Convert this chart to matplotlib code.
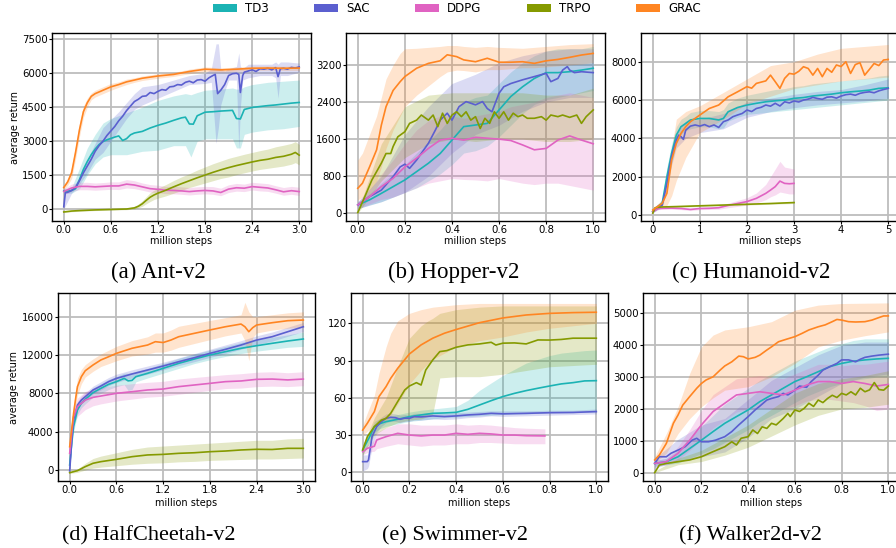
import matplotlib
matplotlib.use("Agg")
import matplotlib.pyplot as plt
from matplotlib.patches import Patch

# ---------------- colours / names ----------------
ALGOS = ["TD3", "SAC", "DDPG", "TRPO", "GRAC"]
COLORS = {"TD3": "#1bb3b4", "SAC": "#5b5fcf", "DDPG": "#e063c2",
          "TRPO": "#859a00", "GRAC": "#ff8522"}

# ================= (a) Ant-v2 =================
ANT_TD3_X = [0, 0.05, 0.1, 0.15, 0.2, 0.25, 0.3, 0.35, 0.4, 0.45, 0.5, 0.55, 0.6, 0.65, 0.7, 0.75, 0.8, 0.85, 0.9, 1.0, 1.1, 1.2, 1.3, 1.4, 1.5, 1.55, 1.6, 1.65, 1.7, 1.8, 1.9, 2.0, 2.1, 2.15, 2.2, 2.25, 2.3, 2.4, 2.5, 2.6, 2.7, 2.8, 2.9, 3.0]
ANT_TD3_Y = [800, 790, 820, 900, 1300, 1750, 2100, 2400, 2650, 2850, 2980, 3060, 3120, 3180, 3230, 3030, 3110, 3280, 3360, 3430, 3580, 3700, 3800, 3920, 4030, 4060, 3760, 3750, 4120, 4280, 4300, 4330, 4350, 4360, 4000, 3980, 4400, 4490, 4530, 4570, 4600, 4640, 4680, 4710]
ANT_TD3_BX = [0, 0.1, 0.2, 0.3, 0.4, 0.5, 0.6, 0.8, 1.0, 1.2, 1.4, 1.55, 1.62, 1.7, 1.8, 2.0, 2.15, 2.2, 2.25, 2.3, 2.4, 2.6, 2.8, 3.0]
ANT_TD3_LO = [700, 700, 900, 1500, 2000, 2300, 2400, 2400, 2550, 2600, 2800, 2800, 2300, 3000, 3100, 3100, 3100, 2700, 2700, 3300, 3400, 3500, 3550, 3650]
ANT_TD3_HI = [900, 950, 1800, 2700, 3300, 3800, 4000, 4250, 4500, 4800, 5000, 5100, 5050, 5150, 5250, 5300, 5350, 5300, 5300, 5400, 5500, 5600, 5650, 5700]

ANT_SAC_X = [0, 0.02, 0.05, 0.1, 0.15, 0.2, 0.25, 0.3, 0.35, 0.4, 0.45, 0.5, 0.55, 0.6, 0.65, 0.7, 0.75, 0.8, 0.85, 0.9, 0.95, 1.0, 1.05, 1.1, 1.15, 1.2, 1.25, 1.3, 1.35, 1.4, 1.45, 1.5, 1.55, 1.6, 1.65, 1.7, 1.75, 1.8, 1.85, 1.9, 1.93, 1.96, 2.0, 2.05, 2.1, 2.15, 2.2, 2.23, 2.25, 2.28, 2.3, 2.35, 2.4, 2.45, 2.5, 2.55, 2.6, 2.65, 2.7, 2.73, 2.76, 2.8, 2.85, 2.9, 2.95, 3.0]
ANT_SAC_Y = [100, 720, 740, 820, 950, 1250, 1600, 1900, 2200, 2550, 2800, 3000, 3250, 3450, 3650, 3900, 4100, 4350, 4550, 4750, 4850, 4980, 5000, 5150, 5100, 5200, 5280, 5250, 5400, 5420, 5500, 5480, 5600, 5650, 5580, 5700, 5720, 5650, 5800, 5900, 5950, 5100, 5250, 5500, 5900, 5980, 6000, 5950, 5150, 5900, 6050, 6100, 6150, 6080, 6200, 6180, 6220, 6150, 6250, 5850, 6200, 6220, 6180, 6260, 6230, 6280]
ANT_SAC_BX = [0, 0.1, 0.2, 0.3, 0.4, 0.5, 0.6, 0.7, 0.8, 0.9, 1.0, 1.2, 1.4, 1.6, 1.8, 1.88, 1.94, 1.97, 2.0, 2.05, 2.1, 2.2, 2.23, 2.25, 2.28, 2.35, 2.5, 2.65, 2.7, 2.73, 2.76, 2.85, 3.0]
ANT_SAC_LO = [0, 700, 1100, 1600, 2200, 2500, 3000, 3500, 4000, 4400, 4600, 4900, 5200, 5500, 5550, 5600, 2900, 3600, 4600, 5200, 5700, 5700, 2600, 4500, 5700, 5800, 5900, 5900, 5800, 4900, 5900, 5900, 6050]
ANT_SAC_HI = [800, 900, 1400, 2200, 2900, 3600, 3950, 4300, 4700, 5100, 5400, 5500, 5700, 5900, 6000, 6200, 7300, 7300, 6200, 6100, 6200, 6300, 6900, 6300, 6200, 6400, 6400, 6400, 6500, 6400, 6500, 6500, 6450]

ANT_DDPG_X = [0, 0.05, 0.1, 0.2, 0.3, 0.4, 0.5, 0.6, 0.7, 0.8, 0.9, 1.0, 1.1, 1.2, 1.3, 1.4, 1.5, 1.6, 1.7, 1.8, 1.9, 2.0, 2.1, 2.2, 2.3, 2.4, 2.5, 2.6, 2.7, 2.8, 2.9, 3.0]
ANT_DDPG_Y = [780, 850, 930, 1000, 1000, 980, 1000, 1020, 1020, 1100, 1060, 980, 900, 870, 830, 820, 800, 770, 800, 820, 800, 730, 880, 940, 920, 990, 960, 930, 850, 760, 810, 770]
ANT_DDPG_LO = [650, 700, 780, 850, 850, 830, 850, 870, 860, 930, 900, 830, 750, 720, 680, 670, 650, 620, 650, 670, 650, 590, 730, 790, 770, 840, 800, 780, 700, 610, 650, 600]
ANT_DDPG_HI = [900, 1000, 1100, 1180, 1180, 1150, 1170, 1200, 1200, 1300, 1250, 1150, 1080, 1050, 1000, 1000, 980, 950, 980, 1000, 990, 920, 1070, 1130, 1100, 1180, 1150, 1120, 1030, 950, 1000, 960]

ANT_TRPO_X = [0, 0.1, 0.2, 0.4, 0.6, 0.8, 0.9, 0.95, 1.0, 1.05, 1.1, 1.15, 1.2, 1.3, 1.4, 1.5, 1.6, 1.7, 1.8, 1.9, 2.0, 2.1, 2.2, 2.3, 2.4, 2.5, 2.6, 2.7, 2.8, 2.9, 2.95, 3.0]
ANT_TRPO_Y = [-130, -90, -70, -40, -20, 0, 50, 120, 230, 380, 520, 620, 700, 830, 980, 1120, 1250, 1380, 1500, 1620, 1730, 1830, 1920, 2000, 2080, 2150, 2200, 2280, 2330, 2420, 2500, 2380]
ANT_TRPO_LO = [-160, -120, -100, -70, -50, -30, 0, 50, 120, 230, 330, 420, 480, 580, 700, 820, 950, 1050, 1150, 1250, 1350, 1420, 1520, 1600, 1680, 1750, 1800, 1850, 1900, 1980, 2050, 1950]
ANT_TRPO_HI = [-100, -60, -40, -10, 10, 40, 120, 220, 360, 540, 720, 830, 920, 1080, 1260, 1420, 1560, 1720, 1860, 2000, 2120, 2240, 2330, 2420, 2500, 2580, 2650, 2750, 2820, 2900, 2980, 2850]

ANT_GRAC_X = [0, 0.05, 0.1, 0.15, 0.2, 0.25, 0.3, 0.35, 0.4, 0.5, 0.6, 0.7, 0.8, 0.9, 1.0, 1.2, 1.4, 1.6, 1.8, 2.0, 2.2, 2.4, 2.6, 2.8, 3.0]
ANT_GRAC_Y = [950, 1200, 1600, 2500, 3500, 4300, 4700, 4980, 5100, 5250, 5400, 5500, 5620, 5700, 5780, 5880, 5950, 6080, 6180, 6150, 6180, 6220, 6230, 6220, 6230]
ANT_GRAC_LO = [850, 1050, 1350, 2200, 3200, 4050, 4500, 4830, 4950, 5100, 5250, 5380, 5500, 5600, 5680, 5780, 5860, 5980, 6080, 6060, 6090, 6130, 6140, 6130, 6130]
ANT_GRAC_HI = [1050, 1350, 1850, 2800, 3800, 4550, 4900, 5130, 5250, 5400, 5550, 5620, 5740, 5800, 5880, 5980, 6040, 6180, 6280, 6240, 6270, 6310, 6320, 6310, 6330]

# ================= (b) Hopper-v2 =================
HOP_GRAC_X = [0, 0.02, 0.05, 0.08, 0.1, 0.12, 0.15, 0.18, 0.2, 0.25, 0.3, 0.35, 0.38, 0.42, 0.45, 0.5, 0.55, 0.6, 0.65, 0.7, 0.75, 0.8, 0.85, 0.9, 0.95, 1.0]
HOP_GRAC_Y = [540, 650, 1000, 1370, 1900, 2300, 2650, 2840, 2950, 3130, 3235, 3290, 3420, 3380, 3310, 3270, 3345, 3260, 3260, 3270, 3235, 3290, 3320, 3365, 3415, 3450]
HOP_GRAC_LO = [290, 350, 500, 700, 1000, 1400, 1800, 2100, 2300, 2550, 2750, 2950, 3050, 3090, 3080, 3050, 3100, 3100, 3120, 3140, 3140, 3160, 3180, 3200, 3220, 3250]
HOP_GRAC_HI = [1150, 1300, 1700, 2100, 2500, 2900, 3200, 3450, 3550, 3560, 3580, 3600, 3620, 3620, 3600, 3580, 3600, 3580, 3570, 3560, 3580, 3600, 3620, 3640, 3650, 3660]

HOP_SAC_X = [0, 0.05, 0.1, 0.15, 0.18, 0.2, 0.22, 0.25, 0.3, 0.33, 0.35, 0.38, 0.4, 0.43, 0.46, 0.5, 0.53, 0.55, 0.57, 0.6, 0.62, 0.65, 0.7, 0.75, 0.8, 0.82, 0.85, 0.87, 0.89, 0.9, 0.92, 0.95, 1.0]
HOP_SAC_Y = [180, 360, 500, 790, 1000, 1060, 970, 1150, 1510, 1800, 2010, 2160, 2010, 2300, 2410, 2340, 2410, 2260, 2190, 2590, 2730, 2800, 2880, 2950, 3020, 2840, 2910, 3090, 3165, 3090, 3035, 3055, 3035]
HOP_SAC_BX = [0, 0.1, 0.2, 0.3, 0.4, 0.5, 0.6, 0.7, 0.8, 0.9, 1.0]
HOP_SAC_LO = [100, 250, 450, 800, 1300, 1700, 1900, 2200, 2400, 2500, 2500]
HOP_SAC_HI = [250, 800, 1700, 2300, 2800, 3000, 3250, 3400, 3500, 3550, 3550]

HOP_TD3_X = [0, 0.05, 0.1, 0.15, 0.2, 0.25, 0.3, 0.35, 0.4, 0.45, 0.5, 0.55, 0.6, 0.65, 0.7, 0.75, 0.8, 0.85, 0.9, 0.95, 1.0]
HOP_TD3_Y = [180, 290, 430, 575, 720, 900, 1080, 1290, 1580, 1870, 1905, 1940, 2230, 2520, 2730, 2910, 3035, 3035, 3055, 3090, 3130]
HOP_TD3_LO = [100, 180, 250, 350, 450, 550, 700, 850, 1050, 1300, 1350, 1450, 1650, 1900, 2150, 2350, 2450, 2500, 2550, 2600, 2650]
HOP_TD3_HI = [250, 420, 650, 850, 1050, 1300, 1550, 1800, 2100, 2400, 2500, 2550, 2800, 3050, 3250, 3400, 3500, 3550, 3550, 3550, 3600]

HOP_TRPO_X = [0, 0.03, 0.06, 0.1, 0.12, 0.14, 0.15, 0.17, 0.2, 0.22, 0.25, 0.27, 0.3, 0.32, 0.34, 0.36, 0.38, 0.4, 0.42, 0.44, 0.46, 0.48, 0.5, 0.52, 0.54, 0.56, 0.58, 0.6, 0.62, 0.64, 0.66, 0.68, 0.7, 0.72, 0.75, 0.78, 0.8, 0.82, 0.85, 0.87, 0.9, 0.93, 0.95, 0.97, 1.0]
HOP_TRPO_Y = [15, 360, 720, 1080, 1290, 1290, 1440, 1650, 1760, 1940, 2010, 2120, 2010, 2120, 1870, 2160, 1940, 2120, 2190, 2085, 2190, 2010, 2085, 1830, 2050, 1940, 2190, 2050, 2190, 2010, 2160, 2085, 2120, 2050, 2050, 2085, 2010, 2120, 2085, 2120, 2070, 2120, 1940, 2085, 2230]
HOP_TRPO_BX = [0, 0.1, 0.2, 0.3, 0.4, 0.5, 0.6, 0.7, 0.8, 0.9, 1.0]
HOP_TRPO_LO = [0, 700, 1200, 1500, 1600, 1550, 1600, 1600, 1550, 1550, 1600]
HOP_TRPO_HI = [50, 1500, 2300, 2550, 2600, 2600, 2600, 2600, 2550, 2550, 2700]

HOP_DDPG_X = [0, 0.05, 0.1, 0.15, 0.2, 0.25, 0.3, 0.35, 0.4, 0.45, 0.5, 0.55, 0.6, 0.65, 0.7, 0.75, 0.8, 0.85, 0.9, 0.95, 1.0]
HOP_DDPG_Y = [180, 360, 575, 755, 1000, 1190, 1400, 1580, 1620, 1580, 1640, 1620, 1600, 1570, 1475, 1370, 1400, 1580, 1670, 1580, 1500]
HOP_DDPG_LO = [100, 200, 300, 350, 450, 550, 650, 700, 750, 730, 720, 700, 750, 700, 650, 620, 650, 650, 600, 550, 500]
HOP_DDPG_HI = [250, 500, 850, 1150, 1500, 1800, 2000, 2100, 2100, 2050, 2100, 2150, 2200, 2300, 2350, 2400, 2500, 2550, 2600, 2550, 2500]

# ================= (c) Humanoid-v2 =================
HUM_GRAC_X = [0, 0.1, 0.2, 0.3, 0.35, 0.4, 0.5, 0.6, 0.7, 0.8, 1.0, 1.2, 1.4, 1.6, 1.8, 2.0, 2.1, 2.2, 2.4, 2.5, 2.6, 2.7, 2.8, 2.9, 3.0, 3.1, 3.2, 3.3, 3.4, 3.5, 3.6, 3.7, 3.8, 3.9, 4.0, 4.1, 4.2, 4.3, 4.4, 4.5, 4.6, 4.7, 4.8, 4.9, 5.0]
HUM_GRAC_Y = [260, 435, 610, 1130, 2000, 2870, 3740, 4260, 4610, 4870, 5220, 5560, 5740, 6170, 6430, 6700, 6620, 6870, 7000, 7300, 6960, 6610, 7130, 7390, 7350, 7500, 7740, 7650, 7300, 7650, 7220, 7650, 7450, 7830, 7750, 8000, 7390, 7850, 7950, 7300, 7600, 7910, 7800, 8090, 8120]
HUM_GRAC_BX = [0, 0.2, 0.3, 0.4, 0.5, 0.7, 1.0, 1.5, 2.0, 2.5, 3.0, 3.5, 4.0, 4.5, 5.0]
HUM_GRAC_LO = [200, 400, 500, 1000, 1800, 3000, 4300, 5000, 5800, 6200, 6600, 6800, 7000, 7100, 7200]
HUM_GRAC_HI = [350, 800, 2000, 3500, 5000, 5400, 5700, 6400, 7100, 7800, 8000, 8400, 8700, 8800, 8900]

HUM_TD3_X = [0, 0.1, 0.2, 0.3, 0.4, 0.5, 0.6, 0.7, 0.8, 1.0, 1.2, 1.4, 1.5, 1.6, 1.8, 2.0, 2.2, 2.4, 2.6, 2.8, 3.0, 3.2, 3.4, 3.6, 3.8, 4.0, 4.2, 4.4, 4.6, 4.8, 5.0]
HUM_TD3_Y = [170, 435, 610, 2000, 3220, 4170, 4610, 4780, 4960, 5040, 5040, 4960, 5040, 5390, 5610, 5740, 5830, 5910, 5960, 6000, 6090, 6130, 6210, 6260, 6310, 6380, 6430, 6470, 6520, 6610, 6640]
HUM_TD3_LO = [120, 300, 450, 1500, 2700, 3700, 4200, 4400, 4500, 4600, 4600, 4500, 4550, 4900, 5100, 5250, 5300, 5350, 5400, 5450, 5500, 5550, 5600, 5650, 5700, 5750, 5800, 5850, 5900, 5950, 6000]
HUM_TD3_HI = [220, 550, 800, 2500, 3700, 4600, 5000, 5150, 5350, 5450, 5450, 5400, 5500, 5850, 6100, 6250, 6350, 6450, 6550, 6600, 6700, 6750, 6850, 6900, 6950, 7000, 7050, 7100, 7150, 7250, 7300]

HUM_SAC_X = [0, 0.1, 0.2, 0.3, 0.4, 0.5, 0.55, 0.6, 0.65, 0.7, 0.8, 0.9, 1.0, 1.1, 1.2, 1.3, 1.4, 1.5, 1.6, 1.7, 1.8, 1.9, 2.0, 2.1, 2.2, 2.3, 2.4, 2.5, 2.6, 2.7, 2.8, 2.9, 3.0, 3.1, 3.2, 3.3, 3.4, 3.5, 3.6, 3.7, 3.8, 3.9, 4.0, 4.1, 4.2, 4.3, 4.4, 4.5, 4.6, 4.7, 4.8, 4.9, 5.0]
HUM_SAC_Y = [170, 350, 520, 1650, 3040, 3910, 4170, 4090, 3950, 4430, 4640, 4700, 4640, 4720, 4610, 4700, 4570, 4870, 4960, 5130, 5220, 5300, 5480, 5400, 5560, 5620, 5740, 5680, 5830, 5690, 5910, 5850, 5950, 5900, 6000, 6050, 6140, 6080, 6040, 6150, 6170, 6100, 6210, 6280, 6310, 6250, 6350, 6400, 6430, 6380, 6480, 6550, 6610]
HUM_SAC_BX = [0, 0.2, 0.3, 0.4, 0.5, 0.7, 1.0, 1.5, 2.0, 2.5, 3.0, 3.5, 4.0, 4.5, 5.0]
HUM_SAC_LO = [120, 400, 1300, 2600, 3500, 4000, 4300, 4500, 5100, 5400, 5600, 5750, 5850, 5950, 6100]
HUM_SAC_HI = [220, 650, 2000, 3500, 4300, 4900, 5000, 5300, 5900, 6100, 6300, 6450, 6550, 6800, 7100]

HUM_DDPG_X = [0, 0.1, 0.2, 0.4, 0.6, 0.8, 1.0, 1.2, 1.4, 1.6, 1.8, 2.0, 2.2, 2.4, 2.5, 2.6, 2.7, 2.8, 2.9, 3.0]
HUM_DDPG_Y = [170, 330, 350, 360, 340, 290, 340, 350, 380, 500, 600, 700, 870, 1130, 1300, 1480, 1770, 1650, 1630, 1650]
HUM_DDPG_LO = [120, 280, 290, 300, 280, 230, 280, 290, 300, 380, 450, 520, 620, 800, 950, 1050, 1200, 1150, 1100, 1100]
HUM_DDPG_HI = [220, 380, 410, 420, 400, 350, 400, 420, 460, 620, 760, 900, 1150, 1600, 2000, 2400, 2800, 2500, 2450, 2400]

HUM_TRPO_X = [0, 0.05, 0.2, 0.5, 1.0, 1.5, 2.0, 2.5, 3.0]
HUM_TRPO_Y = [100, 380, 420, 440, 480, 520, 560, 600, 650]
HUM_TRPO_LO = [60, 340, 380, 400, 440, 480, 520, 560, 600]
HUM_TRPO_HI = [140, 420, 460, 480, 520, 560, 600, 640, 700]

# ================= (d) HalfCheetah-v2 =================
HC_GRAC_X = [0, 0.03, 0.05, 0.08, 0.1, 0.15, 0.2, 0.3, 0.4, 0.5, 0.6, 0.8, 0.9, 1.0, 1.1, 1.2, 1.3, 1.4, 1.6, 1.8, 2.0, 2.2, 2.25, 2.3, 2.35, 2.4, 2.6, 2.8, 3.0]
HC_GRAC_Y = [2430, 4520, 5900, 7650, 8700, 9740, 10360, 10960, 11480, 11820, 12170, 12700, 12870, 13040, 13390, 13300, 13560, 13910, 14260, 14610, 14950, 15230, 14950, 14430, 14850, 15130, 15370, 15580, 15650]
HC_GRAC_LO = [2000, 3800, 5000, 6800, 7800, 9000, 9700, 10300, 10800, 11100, 11400, 11900, 12000, 12100, 12300, 12300, 12500, 12800, 13200, 13600, 14000, 14300, 13500, 11400, 13800, 14300, 14600, 14800, 14900]
HC_GRAC_HI = [2900, 5300, 6800, 8500, 9600, 10500, 11000, 11600, 12100, 12500, 12900, 13500, 13700, 13900, 14300, 14300, 14600, 15000, 15300, 15600, 15900, 16200, 17500, 16500, 16000, 16000, 16200, 16400, 16500]

HC_SAC_X = [0, 0.03, 0.05, 0.1, 0.15, 0.2, 0.3, 0.4, 0.5, 0.6, 0.8, 1.0, 1.2, 1.4, 1.6, 1.8, 2.0, 2.2, 2.4, 2.6, 2.8, 3.0]
HC_SAC_Y = [-100, 3480, 5220, 6780, 7300, 7650, 8350, 8760, 9220, 9560, 10020, 10430, 10850, 11300, 11720, 12170, 12590, 13040, 13560, 13910, 14430, 14950]
HC_SAC_LO = [-300, 3100, 4800, 6400, 6900, 7250, 7950, 8350, 8800, 9150, 9600, 10000, 10450, 10900, 11300, 11750, 12150, 12600, 13100, 13450, 13950, 14450]
HC_SAC_HI = [100, 3900, 5600, 7150, 7700, 8050, 8750, 9200, 9650, 10000, 10450, 10850, 11250, 11700, 12150, 12600, 13050, 13500, 14000, 14400, 14900, 15400]

HC_TD3_X = [0, 0.03, 0.05, 0.1, 0.15, 0.2, 0.3, 0.4, 0.5, 0.6, 0.7, 0.75, 0.8, 0.85, 1.0, 1.2, 1.4, 1.6, 1.8, 2.0, 2.2, 2.4, 2.6, 2.8, 3.0]
HC_TD3_Y = [520, 3130, 4520, 6260, 6960, 7370, 8070, 8520, 8940, 9220, 9560, 9300, 9350, 9740, 10090, 10610, 11130, 11580, 12000, 12350, 12700, 12970, 13220, 13460, 13670]
HC_TD3_LO = [300, 2700, 4000, 5800, 6500, 6900, 7600, 8000, 8400, 8700, 8900, 8300, 8400, 9200, 9600, 10100, 10600, 11100, 11500, 11850, 12150, 12400, 12600, 12800, 12900]
HC_TD3_HI = [800, 3600, 5000, 6700, 7400, 7800, 8550, 9000, 9450, 9750, 10100, 10100, 10150, 10300, 10600, 11100, 11650, 12100, 12500, 12900, 13300, 13600, 13850, 14100, 14400]

HC_DDPG_X = [0, 0.03, 0.05, 0.1, 0.2, 0.3, 0.4, 0.6, 0.8, 1.0, 1.2, 1.4, 1.6, 1.8, 2.0, 2.2, 2.4, 2.6, 2.8, 3.0]
HC_DDPG_Y = [1740, 4170, 5560, 6610, 7300, 7580, 7720, 8000, 8170, 8350, 8450, 8700, 8870, 9040, 9220, 9290, 9460, 9490, 9400, 9490]
HC_DDPG_LO = [1300, 3500, 4700, 5600, 6300, 6700, 6900, 7200, 7400, 7600, 7700, 7900, 8100, 8300, 8500, 8550, 8700, 8750, 8700, 8800]
HC_DDPG_HI = [2200, 4800, 6300, 7500, 8200, 8450, 8600, 8850, 9000, 9150, 9250, 9500, 9650, 9800, 9950, 10050, 10200, 10250, 10150, 10250]

HC_TRPO_X = [0, 0.1, 0.2, 0.3, 0.4, 0.6, 0.8, 1.0, 1.2, 1.4, 1.6, 1.8, 2.0, 2.2, 2.4, 2.6, 2.8, 3.0]
HC_TRPO_Y = [-280, -70, 350, 700, 870, 1110, 1390, 1570, 1630, 1740, 1800, 1910, 1980, 2090, 2160, 2140, 2260, 2260]
HC_TRPO_LO = [-350, -250, 0, 200, 300, 450, 600, 700, 750, 850, 900, 1000, 1050, 1100, 1150, 1150, 1200, 1250]
HC_TRPO_HI = [-200, 100, 700, 1200, 1450, 1800, 2150, 2400, 2500, 2600, 2700, 2800, 2900, 3000, 3100, 3100, 3250, 3300]

# ================= (e) Swimmer-v2 =================
SW_GRAC_X = [0, 0.02, 0.05, 0.07, 0.1, 0.12, 0.15, 0.2, 0.25, 0.3, 0.35, 0.4, 0.5, 0.6, 0.7, 0.8, 0.9, 1.0]
SW_GRAC_Y = [34, 39.5, 48.9, 61, 69, 75.7, 83.8, 95.3, 102.6, 108, 112, 115, 120.5, 124.3, 126.7, 128, 128.6, 128.9]
SW_GRAC_LO = [30, 33, 38, 41, 42, 46, 55, 71, 82, 91, 96, 101, 106, 109, 113, 116, 118, 120]
SW_GRAC_HI = [38, 48, 62, 80, 101, 112, 122, 128, 131, 133, 134, 135, 136, 136, 136, 136, 136, 136]

SW_TRPO_X = [0, 0.02, 0.05, 0.08, 0.1, 0.12, 0.15, 0.18, 0.2, 0.23, 0.25, 0.27, 0.3, 0.33, 0.36, 0.4, 0.45, 0.5, 0.55, 0.57, 0.6, 0.65, 0.7, 0.75, 0.8, 0.85, 0.9, 1.0]
SW_TRPO_Y = [18, 28.7, 36.8, 42, 43.5, 47.5, 57, 66.3, 69.5, 72.2, 70.3, 82.4, 90.5, 97.2, 98, 100.7, 102.6, 103.4, 104.7, 102.5, 104, 104.2, 103.4, 106.6, 106.5, 107, 108, 108]
SW_TRPO_BX = [0, 0.05, 0.1, 0.15, 0.2, 0.25, 0.28, 0.3, 0.33, 0.4, 0.5, 0.6, 0.7, 0.8, 0.9, 1.0]
SW_TRPO_LO = [14, 30, 36, 40, 42, 43, 45, 47, 76, 77, 77, 79, 82, 85, 86, 87]
SW_TRPO_HI = [22, 44, 60, 85, 108, 118, 122, 124, 128, 131, 133, 134, 134, 134, 134, 134]

SW_TD3_X = [0, 0.03, 0.05, 0.07, 0.1, 0.15, 0.2, 0.25, 0.3, 0.35, 0.4, 0.45, 0.5, 0.55, 0.6, 0.65, 0.7, 0.75, 0.8, 0.85, 0.9, 0.95, 1.0]
SW_TD3_Y = [18, 28.7, 36.8, 39, 40.8, 42.7, 44.8, 46.2, 47.5, 47.8, 48.3, 50.7, 54.2, 57.7, 61, 63.6, 65.8, 67.7, 69.5, 71.2, 72.2, 73.6, 73.8]
SW_TD3_LO = [14, 24, 32, 35, 37, 39, 41, 42, 43, 44, 44.5, 45, 45.5, 46, 46.5, 47, 47, 47.5, 48, 48, 48, 48.5, 48.5]
SW_TD3_HI = [22, 33, 41, 43, 44.5, 46.5, 48.5, 50, 51, 52, 53, 58, 66, 72, 78, 83, 88, 91, 94, 96, 97, 98, 98.5]

SW_SAC_X = [0, 0.02, 0.025, 0.04, 0.06, 0.08, 0.1, 0.12, 0.14, 0.16, 0.18, 0.2, 0.22, 0.25, 0.3, 0.35, 0.4, 0.45, 0.5, 0.55, 0.6, 0.7, 0.8, 0.9, 1.0]
SW_SAC_Y = [8.6, 8.6, 10, 28.7, 36.8, 40.8, 43.5, 44.3, 44, 42.7, 43.6, 43.5, 44.8, 44.6, 45.4, 44.9, 45.4, 46.2, 46.7, 47.5, 47.1, 47.5, 48, 48.2, 48.9]
SW_SAC_LO = [1, 3, 5, 20, 32, 37, 40, 41, 41, 40, 41, 41, 42, 42, 43, 42.5, 43, 44, 44.5, 45.5, 45, 45.5, 46, 46.5, 47]
SW_SAC_HI = [14, 14, 16, 36, 41, 44.5, 47, 47.5, 47, 46, 46.5, 46, 47.5, 47.5, 48, 47.5, 48, 48.5, 49, 49.5, 49.5, 49.5, 50, 50, 51]

SW_DDPG_X = [0, 0.02, 0.05, 0.06, 0.08, 0.1, 0.15, 0.2, 0.25, 0.3, 0.35, 0.4, 0.45, 0.5, 0.55, 0.6, 0.65, 0.7, 0.78]
SW_DDPG_Y = [16.6, 19.3, 21, 26, 27.4, 28.7, 31.4, 30, 29.3, 30, 30, 31.4, 30.6, 31.4, 30.9, 30, 30, 29.5, 29.3]
SW_DDPG_LO = [14, 16, 17, 19, 20, 21, 23, 22, 21, 22, 22, 23, 23, 24, 24, 23.5, 23, 23, 23]
SW_DDPG_HI = [19, 22, 26, 32, 34, 36, 39, 39, 38, 38, 38, 39, 38, 38.5, 38, 37, 36, 35.5, 35]

# ================= (f) Walker2d-v2 =================
WK_GRAC_X = [0, 0.02, 0.05, 0.08, 0.1, 0.12, 0.15, 0.18, 0.2, 0.22, 0.25, 0.28, 0.3, 0.33, 0.36, 0.38, 0.4, 0.43, 0.45, 0.48, 0.5, 0.53, 0.56, 0.6, 0.63, 0.66, 0.7, 0.73, 0.76, 0.78, 0.8, 0.83, 0.86, 0.9, 0.93, 0.96, 0.98, 1.0]
WK_GRAC_Y = [400, 555, 920, 1550, 1810, 2120, 2390, 2650, 2800, 2910, 3010, 3220, 3350, 3480, 3660, 3640, 3570, 3620, 3690, 3850, 3950, 4110, 4180, 4270, 4370, 4480, 4580, 4640, 4740, 4810, 4790, 4740, 4730, 4740, 4790, 4870, 4920, 4920]
WK_GRAC_BX = [0, 0.05, 0.1, 0.15, 0.2, 0.25, 0.3, 0.4, 0.5, 0.6, 0.7, 0.8, 0.9, 1.0]
WK_GRAC_LO = [300, 610, 1230, 1700, 2070, 2350, 2590, 2700, 3010, 3430, 3950, 4160, 4300, 4420]
WK_GRAC_HI = [500, 1230, 2070, 3120, 3950, 4320, 4480, 4580, 4740, 5100, 5260, 5310, 5320, 5330]

WK_TD3_X = [0, 0.05, 0.1, 0.15, 0.2, 0.25, 0.3, 0.35, 0.4, 0.45, 0.5, 0.55, 0.6, 0.65, 0.7, 0.75, 0.8, 0.85, 0.9, 0.95, 1.0]
WK_TD3_Y = [290, 345, 500, 760, 1020, 1290, 1550, 1760, 1970, 2230, 2440, 2650, 2860, 3010, 3170, 3330, 3430, 3500, 3540, 3570, 3590]
WK_TD3_LO = [200, 250, 300, 450, 600, 750, 950, 1150, 1350, 1600, 1800, 2000, 2200, 2400, 2550, 2700, 2800, 2900, 2950, 3000, 3000]
WK_TD3_HI = [380, 450, 700, 1100, 1450, 1800, 2150, 2400, 2650, 2900, 3100, 3300, 3500, 3650, 3800, 3950, 4050, 4150, 4200, 4200, 4200]

WK_SAC_X = [0, 0.02, 0.05, 0.07, 0.1, 0.13, 0.16, 0.18, 0.2, 0.23, 0.26, 0.3, 0.33, 0.36, 0.4, 0.43, 0.45, 0.48, 0.5, 0.53, 0.55, 0.57, 0.6, 0.62, 0.65, 0.67, 0.7, 0.72, 0.75, 0.78, 0.8, 0.83, 0.86, 0.88, 0.9, 0.93, 0.96, 1.0]
WK_SAC_Y = [290, 500, 500, 610, 710, 815, 1020, 1080, 970, 970, 1020, 1130, 1290, 1500, 1760, 1970, 2090, 2280, 2330, 2390, 2490, 2440, 2590, 2720, 2680, 2860, 3060, 3220, 3330, 3430, 3540, 3540, 3480, 3560, 3620, 3660, 3690, 3720]
WK_SAC_BX = [0, 0.1, 0.2, 0.3, 0.4, 0.5, 0.6, 0.7, 0.8, 0.9, 1.0]
WK_SAC_LO = [150, 350, 500, 650, 1100, 1700, 2000, 2400, 2800, 3000, 3100]
WK_SAC_HI = [450, 1050, 1500, 1700, 2300, 2900, 3300, 3700, 4000, 4100, 4100]

WK_DDPG_X = [0, 0.05, 0.1, 0.15, 0.2, 0.25, 0.3, 0.35, 0.4, 0.45, 0.5, 0.55, 0.6, 0.65, 0.7, 0.75, 0.8, 0.85, 0.9, 0.95, 1.0]
WK_DDPG_Y = [290, 345, 610, 1020, 1500, 1920, 2180, 2440, 2490, 2540, 2490, 2440, 2590, 2750, 2860, 2860, 2800, 2860, 2800, 2720, 2770]
WK_DDPG_LO = [200, 250, 400, 700, 1050, 1400, 1650, 1900, 2000, 2050, 2000, 2000, 2100, 2250, 2300, 2300, 2250, 2200, 2100, 1950, 2000]
WK_DDPG_HI = [380, 450, 820, 1350, 1950, 2450, 2700, 2950, 3000, 3050, 3000, 2950, 3100, 3250, 3400, 3400, 3350, 3400, 3400, 3450, 3500]

WK_TRPO_X = [0, 0.02, 0.05, 0.1, 0.15, 0.2, 0.25, 0.3, 0.33, 0.35, 0.37, 0.4, 0.42, 0.44, 0.46, 0.48, 0.5, 0.52, 0.55, 0.57, 0.58, 0.6, 0.62, 0.64, 0.66, 0.68, 0.7, 0.72, 0.74, 0.76, 0.78, 0.8, 0.82, 0.84, 0.86, 0.88, 0.9, 0.92, 0.94, 0.96, 0.98, 1.0]
WK_TRPO_Y = [0, 240, 290, 345, 400, 500, 660, 815, 970, 870, 1080, 1130, 1340, 1230, 1440, 1390, 1550, 1500, 1700, 1860, 1760, 1970, 1920, 2020, 2180, 2080, 2280, 2200, 2330, 2430, 2360, 2490, 2440, 2540, 2440, 2650, 2540, 2600, 2830, 2610, 2590, 2720]
WK_TRPO_BX = [0, 0.1, 0.2, 0.3, 0.4, 0.5, 0.6, 0.7, 0.8, 0.9, 1.0]
WK_TRPO_LO = [0, 250, 350, 550, 800, 1150, 1500, 1800, 2000, 2050, 2150]
WK_TRPO_HI = [50, 450, 700, 1100, 1500, 2000, 2500, 2800, 2950, 3050, 3200]

# ---------------- panel specs ----------------
PANELS = [
    dict(cap="(a) Ant-v2",
         series={"TD3": (ANT_TD3_X, ANT_TD3_Y, ANT_TD3_BX, ANT_TD3_LO, ANT_TD3_HI),
                 "SAC": (ANT_SAC_X, ANT_SAC_Y, ANT_SAC_BX, ANT_SAC_LO, ANT_SAC_HI),
                 "DDPG": (ANT_DDPG_X, ANT_DDPG_Y, ANT_DDPG_X, ANT_DDPG_LO, ANT_DDPG_HI),
                 "TRPO": (ANT_TRPO_X, ANT_TRPO_Y, ANT_TRPO_X, ANT_TRPO_LO, ANT_TRPO_HI),
                 "GRAC": (ANT_GRAC_X, ANT_GRAC_Y, ANT_GRAC_X, ANT_GRAC_LO, ANT_GRAC_HI)},
         yticks=[0, 1500, 3000, 4500, 6000, 7500], ylim=(-530, 7780),
         xticks=[0.0, 0.6, 1.2, 1.8, 2.4, 3.0], xfmt="{:.1f}", xlim=(-0.15, 3.15),
         pos=(52, 33, 311, 221), ylabel=True, ylx=-0.125, xly=-0.08,
         cx=158, cy=278, cfs=16.5),
    dict(cap="(b) Hopper-v2",
         series={"TD3": (HOP_TD3_X, HOP_TD3_Y, HOP_TD3_X, HOP_TD3_LO, HOP_TD3_HI),
                 "SAC": (HOP_SAC_X, HOP_SAC_Y, HOP_SAC_BX, HOP_SAC_LO, HOP_SAC_HI),
                 "DDPG": (HOP_DDPG_X, HOP_DDPG_Y, HOP_DDPG_X, HOP_DDPG_LO, HOP_DDPG_HI),
                 "TRPO": (HOP_TRPO_X, HOP_TRPO_Y, HOP_TRPO_BX, HOP_TRPO_LO, HOP_TRPO_HI),
                 "GRAC": (HOP_GRAC_X, HOP_GRAC_Y, HOP_GRAC_X, HOP_GRAC_LO, HOP_GRAC_HI)},
         yticks=[0, 800, 1600, 2400, 3200], ylim=(-166, 3890),
         xticks=[0.0, 0.2, 0.4, 0.6, 0.8, 1.0], xfmt="{:.1f}", xlim=(-0.05, 1.05),
         pos=(346, 33, 605, 221), ylabel=False, xly=-0.08, cx=454, cy=278, cfs=16.5),
    dict(cap="(c) Humanoid-v2",
         series={"TD3": (HUM_TD3_X, HUM_TD3_Y, HUM_TD3_X, HUM_TD3_LO, HUM_TD3_HI),
                 "SAC": (HUM_SAC_X, HUM_SAC_Y, HUM_SAC_BX, HUM_SAC_LO, HUM_SAC_HI),
                 "DDPG": (HUM_DDPG_X, HUM_DDPG_Y, HUM_DDPG_X, HUM_DDPG_LO, HUM_DDPG_HI),
                 "TRPO": (HUM_TRPO_X, HUM_TRPO_Y, HUM_TRPO_X, HUM_TRPO_LO, HUM_TRPO_HI),
                 "GRAC": (HUM_GRAC_X, HUM_GRAC_Y, HUM_GRAC_BX, HUM_GRAC_LO, HUM_GRAC_HI)},
         yticks=[0, 2000, 4000, 6000, 8000], ylim=(-313, 9500),
         xticks=[0, 1, 2, 3, 4, 5], xfmt="{:d}", xlim=(-0.25, 5.25),
         pos=(641, 33, 900, 221), ylabel=False, xly=-0.08, cx=751, cy=278, cfs=16.5),
    dict(cap="(d) HalfCheetah-v2",
         series={"TD3": (HC_TD3_X, HC_TD3_Y, HC_TD3_X, HC_TD3_LO, HC_TD3_HI),
                 "SAC": (HC_SAC_X, HC_SAC_Y, HC_SAC_X, HC_SAC_LO, HC_SAC_HI),
                 "DDPG": (HC_DDPG_X, HC_DDPG_Y, HC_DDPG_X, HC_DDPG_LO, HC_DDPG_HI),
                 "TRPO": (HC_TRPO_X, HC_TRPO_Y, HC_TRPO_X, HC_TRPO_LO, HC_TRPO_HI),
                 "GRAC": (HC_GRAC_X, HC_GRAC_Y, HC_GRAC_X, HC_GRAC_LO, HC_GRAC_HI)},
         yticks=[0, 4000, 8000, 12000, 16000], ylim=(-1148, 18470),
         xticks=[0.0, 0.6, 1.2, 1.8, 2.4, 3.0], xfmt="{:.1f}", xlim=(-0.15, 3.15),
         pos=(58, 293, 315, 481), ylabel=True, ylx=-0.15, xly=-0.088,
         cx=149, cy=540, cfs=16),
    dict(cap="(e) Swimmer-v2",
         series={"TD3": (SW_TD3_X, SW_TD3_Y, SW_TD3_X, SW_TD3_LO, SW_TD3_HI),
                 "SAC": (SW_SAC_X, SW_SAC_Y, SW_SAC_X, SW_SAC_LO, SW_SAC_HI),
                 "DDPG": (SW_DDPG_X, SW_DDPG_Y, SW_DDPG_X, SW_DDPG_LO, SW_DDPG_HI),
                 "TRPO": (SW_TRPO_X, SW_TRPO_Y, SW_TRPO_BX, SW_TRPO_LO, SW_TRPO_HI),
                 "GRAC": (SW_GRAC_X, SW_GRAC_Y, SW_GRAC_X, SW_GRAC_LO, SW_GRAC_HI)},
         yticks=[0, 30, 60, 90, 120], ylim=(-7, 144.4),
         xticks=[0.0, 0.2, 0.4, 0.6, 0.8, 1.0], xfmt="{:.1f}", xlim=(-0.05, 1.05),
         pos=(351, 293, 608, 481), ylabel=False, xly=-0.088, cx=455, cy=540, cfs=16),
    dict(cap="(f) Walker2d-v2",
         series={"TD3": (WK_TD3_X, WK_TD3_Y, WK_TD3_X, WK_TD3_LO, WK_TD3_HI),
                 "SAC": (WK_SAC_X, WK_SAC_Y, WK_SAC_BX, WK_SAC_LO, WK_SAC_HI),
                 "DDPG": (WK_DDPG_X, WK_DDPG_Y, WK_DDPG_X, WK_DDPG_LO, WK_DDPG_HI),
                 "TRPO": (WK_TRPO_X, WK_TRPO_Y, WK_TRPO_BX, WK_TRPO_LO, WK_TRPO_HI),
                 "GRAC": (WK_GRAC_X, WK_GRAC_Y, WK_GRAC_BX, WK_GRAC_LO, WK_GRAC_HI)},
         yticks=[0, 1000, 2000, 3000, 4000, 5000], ylim=(-261, 5640),
         xticks=[0.0, 0.2, 0.4, 0.6, 0.8, 1.0], xfmt="{:.1f}", xlim=(-0.05, 1.05),
         pos=(643, 293, 900, 481), ylabel=False, xly=-0.088, cx=750, cy=540, cfs=16),
]

W, H = 896, 548
fig = plt.figure(figsize=(W / 100, H / 100), dpi=100)
plt.rcParams["font.family"] = ["DejaVu Sans"]

for p in PANELS:
    l, t, r, b = p["pos"]
    ax = fig.add_axes([l / W, 1 - b / H, (r - l) / W, (b - t) / H])
    for name in ALGOS:
        x, y, bx, lo, hi = p["series"][name]
        ax.fill_between(bx, lo, hi, color=COLORS[name], alpha=0.22, lw=0)
    for name in ALGOS:
        x, y, bx, lo, hi = p["series"][name]
        ax.plot(x, y, color=COLORS[name], lw=1.2)
    ax.set_xlim(*p["xlim"])
    ax.set_ylim(*p["ylim"])
    ax.set_xticks(p["xticks"])
    ax.set_xticklabels([p["xfmt"].format(v) for v in p["xticks"]])
    ax.set_yticks(p["yticks"])
    ax.set_yticklabels([str(v) for v in p["yticks"]])
    ax.grid(True, color="#bdbdbd", lw=1.3)
    ax.set_axisbelow(True)
    ax.tick_params(labelsize=7.3, length=2.2, width=0.8, pad=1.0)
    for s in ax.spines.values():
        s.set_linewidth(1.0)
        s.set_color("black")
    ax.set_xlabel("million steps", fontsize=7.0)
    ax.xaxis.set_label_coords(0.5, p["xly"])
    if p["ylabel"]:
        ax.set_ylabel("average return", fontsize=7.0)
        ax.yaxis.set_label_coords(p["ylx"], 0.5)
    fig.text(p["cx"] / W, 1 - p["cy"] / H, p["cap"], ha="center", va="baseline",
             fontsize=p["cfs"], family="Liberation Serif")

handles = [Patch(facecolor=COLORS[n], edgecolor="none", label=n) for n in ALGOS]
fig.legend(handles=handles, loc="center", bbox_to_anchor=(457 / W, 1 - 8.5 / H),
           ncol=5, frameon=False, fontsize=8.5, handlelength=2.0, handleheight=0.75,
           handletextpad=0.7, columnspacing=3.85, borderpad=0, borderaxespad=0)

fig.savefig("out.png", dpi=100)
